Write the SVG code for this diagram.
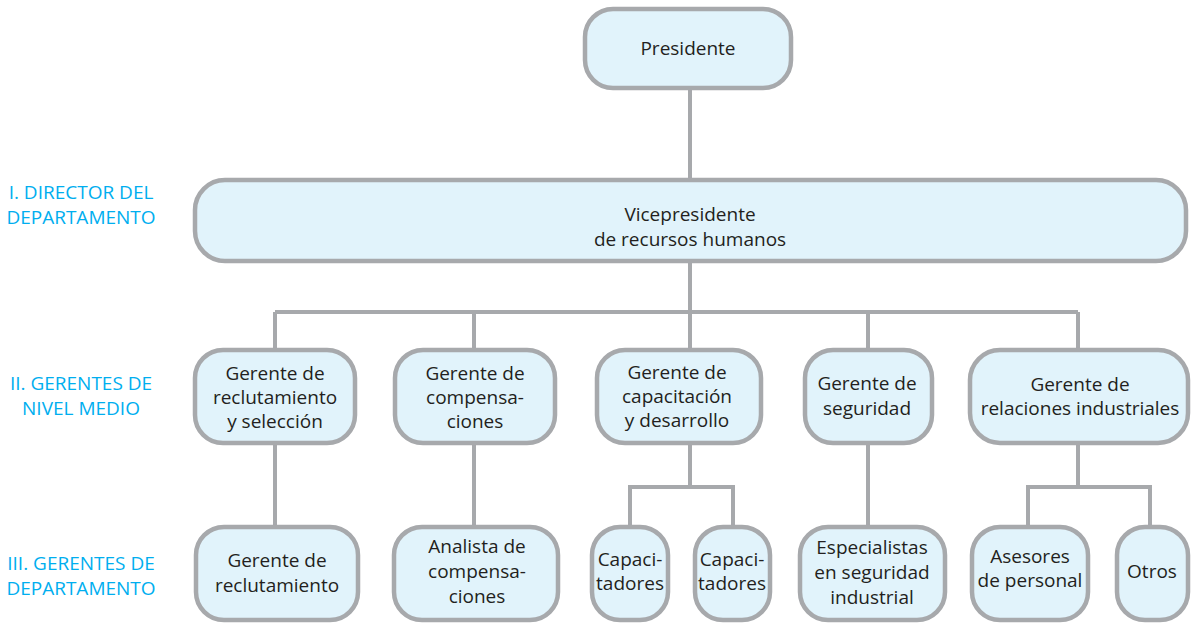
<svg xmlns="http://www.w3.org/2000/svg" width="1192" height="625" viewBox="0 0 1192 625">
<style>
.box{fill:#e1f3fb;stroke:#a7a9ac;stroke-width:4.5}
.t{font-family:"Open Sans","Liberation Sans",sans-serif;font-size:19px;fill:#231f20;text-anchor:middle}
.lbl{font-family:"Open Sans","Liberation Sans",sans-serif;font-size:19px;fill:#00aeef;text-anchor:middle}
.c{fill:none;stroke:#a7a9ac;stroke-width:4}
</style>
<rect width="1192" height="625" fill="#ffffff"/>
<g id="labels">
<text class="lbl" x="81" y="199">I. DIRECTOR DEL</text>
<text class="lbl" x="81" y="224">DEPARTAMENTO</text>
<text class="lbl" x="81" y="390">II. GERENTES DE</text>
<text class="lbl" x="81" y="415">NIVEL MEDIO</text>
<text class="lbl" x="81" y="570">III. GERENTES DE</text>
<text class="lbl" x="81" y="595">DEPARTAMENTO</text>
</g>
<g id="connectors">
<path class="c" d="M690 90V180M690 262V312M275 312H1078M275 312V350M474 312V350M690 312V350M868 312V350M1078 312V350"/>
<path class="c" d="M275 445V525M474 445V525M868 445V525"/>
<path class="c" d="M690 445V487M630 525V487H733V525"/>
<path class="c" d="M1078 445V487M1028 525V487H1150V525"/>
</g>
<g id="presidente"><rect class="box" x="585" y="9" width="206" height="79" rx="28"/><text class="t" x="688" y="55">Presidente</text></g>
<g id="vicepresidente"><rect class="box" x="195" y="180" width="991" height="81" rx="30"/><text class="t" x="690" y="221">Vicepresidente</text><text class="t" x="690" y="246">de recursos humanos</text></g>
<g id="g-reclutamiento"><rect class="box" x="195" y="350" width="160" height="93" rx="28"/><text class="t" x="275" y="380">Gerente de</text><text class="t" x="275" y="404">reclutamiento</text><text class="t" x="275" y="428">y selección</text></g>
<g id="g-compensaciones"><rect class="box" x="395" y="350" width="160" height="93" rx="28"/><text class="t" x="475" y="380">Gerente de</text><text class="t" x="475" y="404">compensa-</text><text class="t" x="475" y="428">ciones</text></g>
<g id="g-capacitacion"><rect class="box" x="597" y="350" width="164" height="93" rx="28"/><text class="t" x="677" y="379">Gerente de</text><text class="t" x="677" y="403">capacitación</text><text class="t" x="677" y="427">y desarrollo</text></g>
<g id="g-seguridad"><rect class="box" x="805" y="350" width="127" height="93" rx="28"/><text class="t" x="867" y="390">Gerente de</text><text class="t" x="867" y="415">seguridad</text></g>
<g id="g-relaciones"><rect class="box" x="970" y="350" width="218" height="93" rx="30"/><text class="t" x="1080" y="391">Gerente de</text><text class="t" x="1080" y="415">relaciones industriales</text></g>
<g id="reclutamiento"><rect class="box" x="196" y="527" width="162" height="93" rx="28"/><text class="t" x="277" y="567">Gerente de</text><text class="t" x="277" y="592">reclutamiento</text></g>
<g id="analista"><rect class="box" x="394" y="527" width="164" height="93" rx="28"/><text class="t" x="477" y="553">Analista de</text><text class="t" x="477" y="578">compensa-</text><text class="t" x="477" y="603">ciones</text></g>
<g id="capacitadores1"><rect class="box" x="592" y="527" width="76" height="93" rx="28"/><text class="t" x="630" y="566">Capaci-</text><text class="t" x="630" y="590">tadores</text></g>
<g id="capacitadores2"><rect class="box" x="695" y="527" width="75" height="93" rx="28"/><text class="t" x="732" y="566">Capaci-</text><text class="t" x="732" y="590">tadores</text></g>
<g id="especialistas"><rect class="box" x="800" y="527" width="145" height="93" rx="28"/><text class="t" x="872" y="554">Especialistas</text><text class="t" x="872" y="579">en seguridad</text><text class="t" x="872" y="604">industrial</text></g>
<g id="asesores"><rect class="box" x="972" y="527" width="116" height="93" rx="28"/><text class="t" x="1030" y="563">Asesores</text><text class="t" x="1030" y="587">de personal</text></g>
<g id="otros"><rect class="box" x="1117" y="527" width="71" height="93" rx="28"/><text class="t" x="1152" y="578">Otros</text></g>
</svg>
